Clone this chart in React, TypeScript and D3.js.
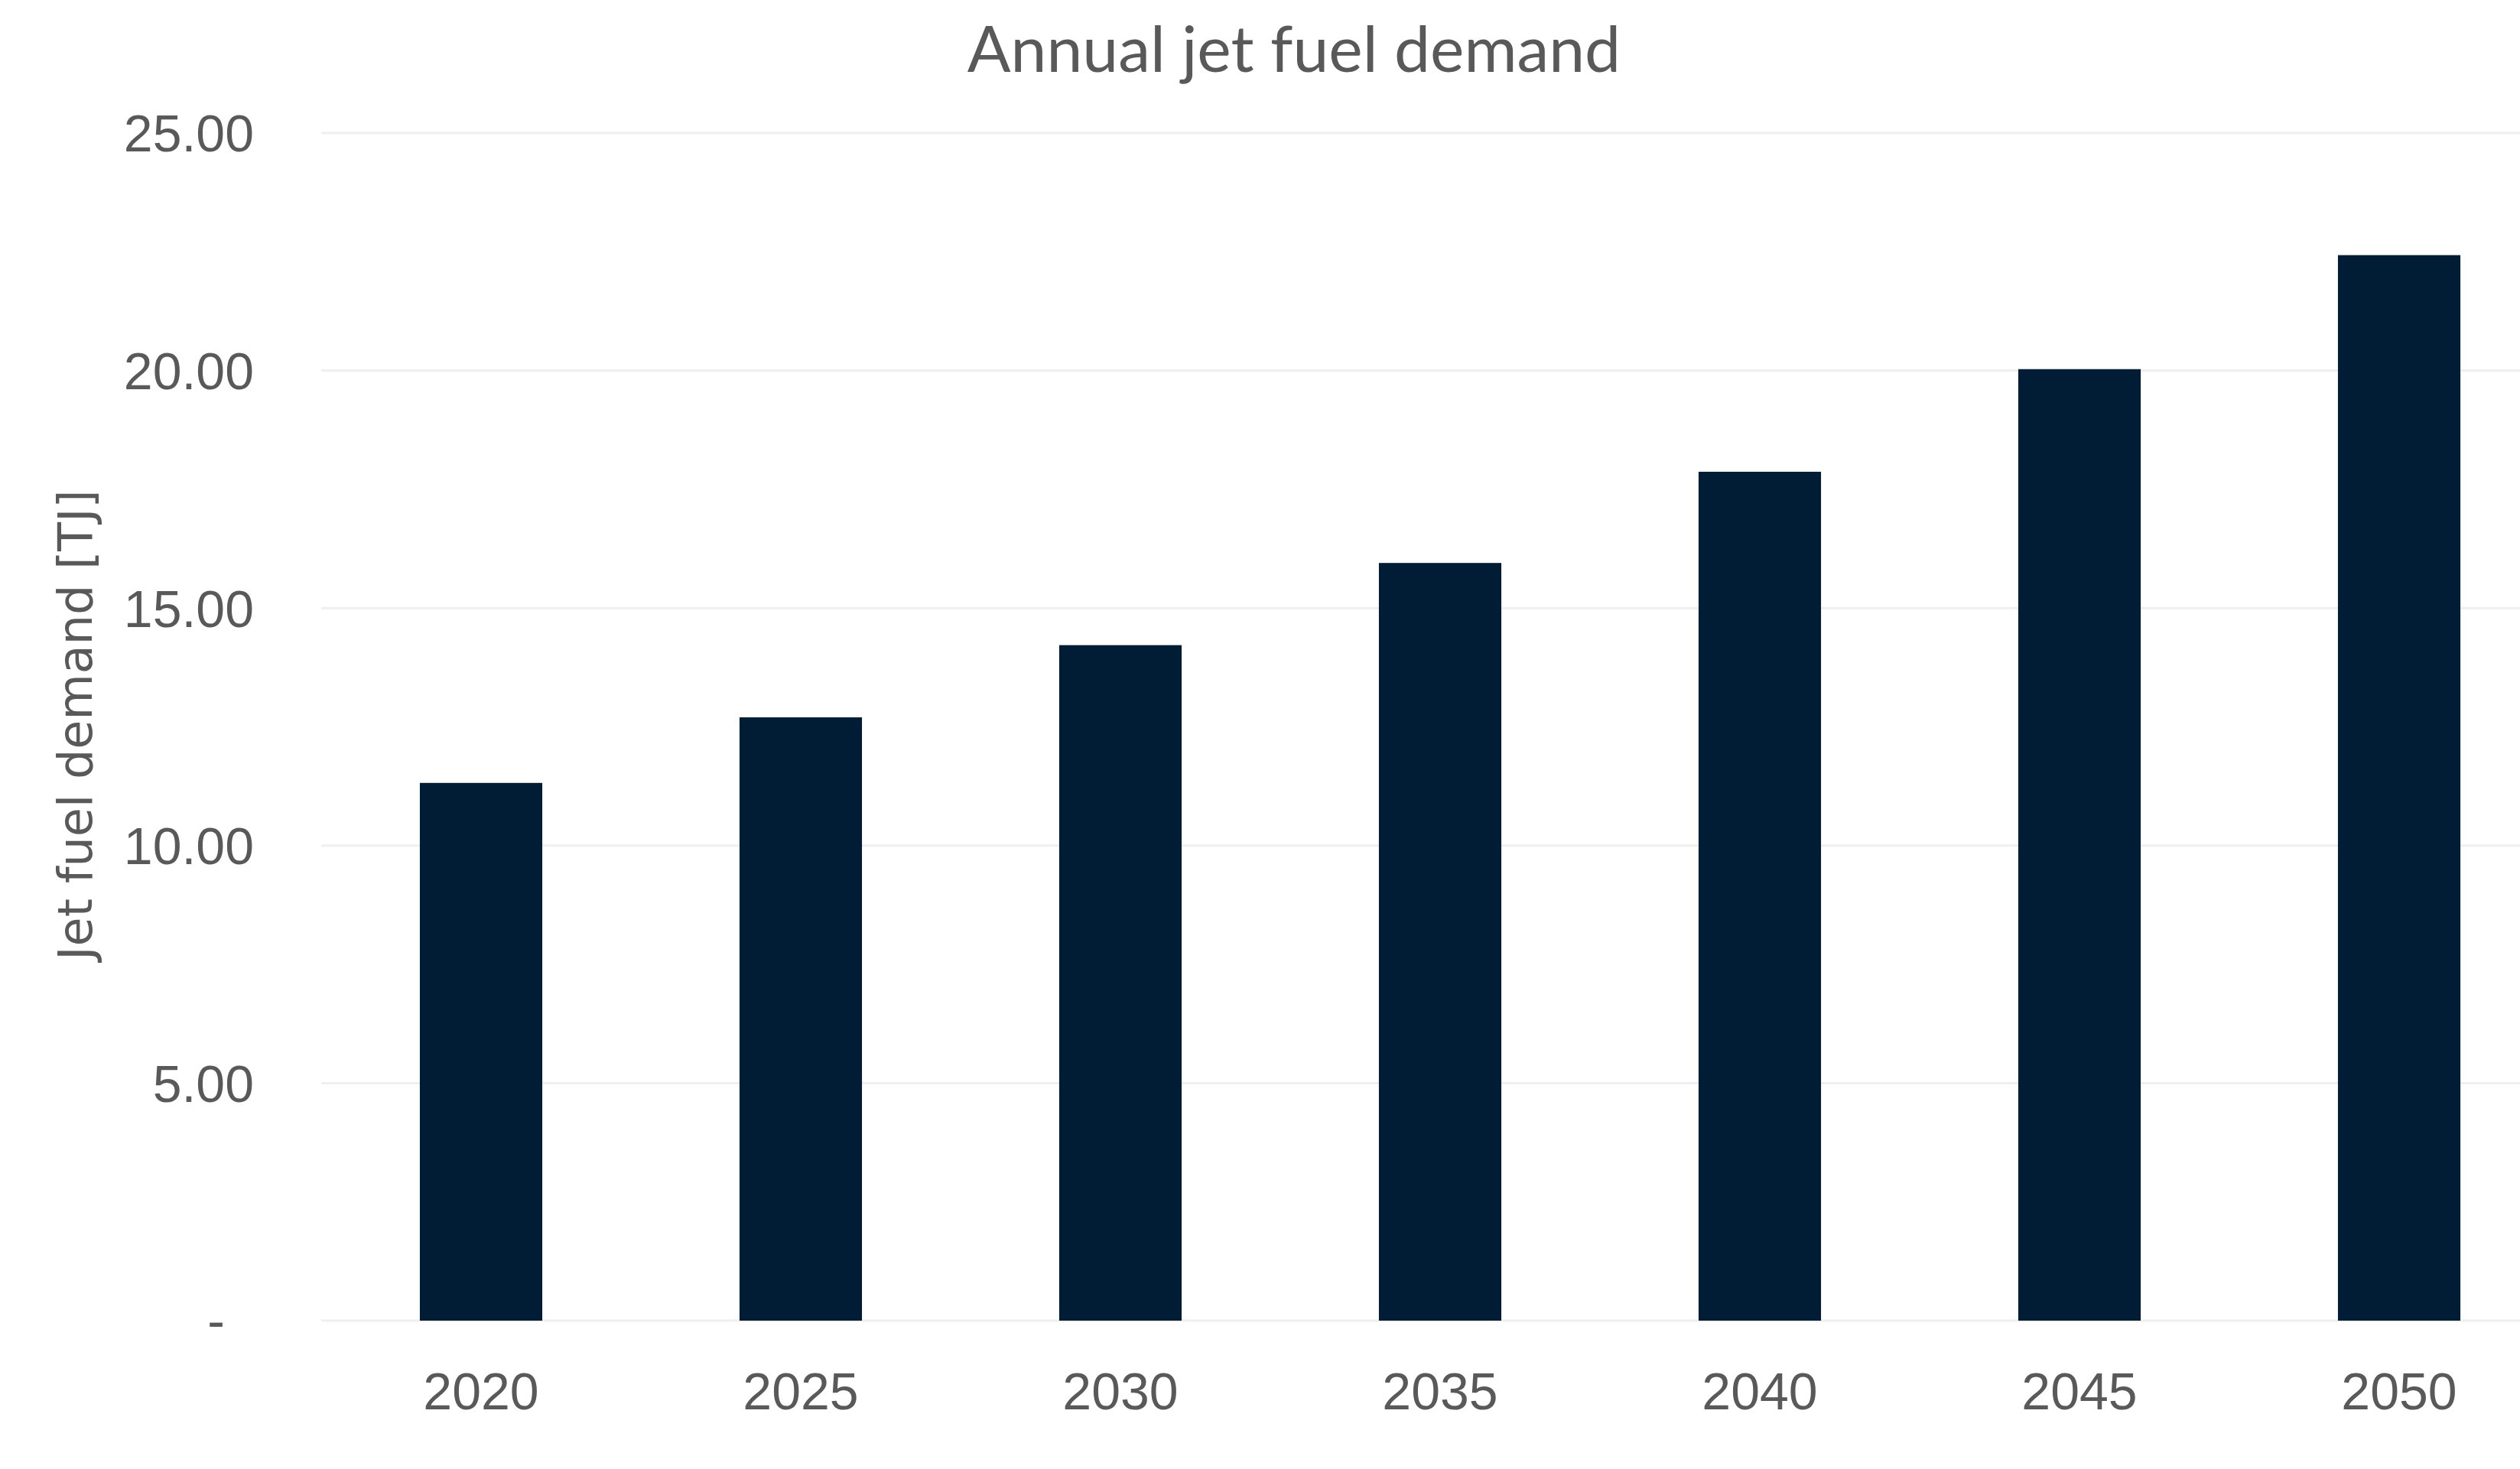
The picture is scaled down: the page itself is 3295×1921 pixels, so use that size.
import React from "react";
import * as d3 from "d3";

const categories = ["2020", "2025", "2030", "2035", "2040", "2045", "2050"];
const demandValues = [11.32, 12.7, 14.22, 15.95, 17.87, 20.03, 22.43];
const yTicks = [0, 5, 10, 15, 20, 25];
const yTickLabels = ["-", "5.00", "10.00", "15.00", "20.00", "25.00"];
const title = "Annual jet fuel demand";
const yAxisTitle = "Jet fuel demand [TJ]";

const W = 3295;
const H = 1921;

export default function App() {
  const plotLeft = 420;
  const plotRightVisible = W;
  const step = 418;
  const x = d3
    .scaleBand<string>()
    .domain(categories)
    .range([plotLeft, plotLeft + step * categories.length])
    .paddingInner(0.617)
    .paddingOuter(0.617 / 2);
  const y = d3.scaleLinear().domain([0, 25]).range([1727, 174]);

  const tickFont = "'Liberation Sans', Arial, Helvetica, sans-serif";
  const textColor = "#595959";

  return (
    <svg
      width={W}
      height={H}
      viewBox={`0 0 ${W} ${H}`}
      style={{ position: "absolute", left: 0, top: 0, display: "block", background: "#ffffff" }}
    >
      <rect x={0} y={0} width={W} height={H} fill="#ffffff" />
      <text
        x={1692}
        y={94}
        textAnchor="middle"
        fontFamily="Lato, 'Open Sans', sans-serif"
        fontSize={84}
        fill={textColor}
      >
        {title}
      </text>
      {yTicks.map((t) => (
        <line
          key={"g" + t}
          x1={plotLeft}
          x2={plotRightVisible}
          y1={y(t)}
          y2={y(t)}
          stroke="#efefef"
          strokeWidth={3}
        />
      ))}
      {yTicks.map((t, i) => (
        <text
          key={"t" + t}
          x={t === 0 ? 294 : 332}
          y={y(t)}
          dy="0.36em"
          textAnchor="end"
          fontFamily={tickFont}
          fontSize={68}
          fill={textColor}
        >
          {yTickLabels[i]}
        </text>
      ))}
      {categories.map((c, i) => (
        <rect
          key={"b" + c}
          x={x(c)}
          y={y(demandValues[i])}
          width={x.bandwidth()}
          height={y(0) - y(demandValues[i])}
          fill="#011c35"
        />
      ))}
      {categories.map((c) => (
        <text
          key={"x" + c}
          x={(x(c) as number) + x.bandwidth() / 2}
          y={1843}
          textAnchor="middle"
          fontFamily={tickFont}
          fontSize={68}
          fill={textColor}
        >
          {c}
        </text>
      ))}
      <text
        transform={`translate(120, 948) rotate(-90)`}
        textAnchor="middle"
        fontFamily="'DejaVu Sans', Verdana, sans-serif"
        fontSize={62}
        fill={textColor}
      >
        {yAxisTitle}
      </text>
    </svg>
  );
}
